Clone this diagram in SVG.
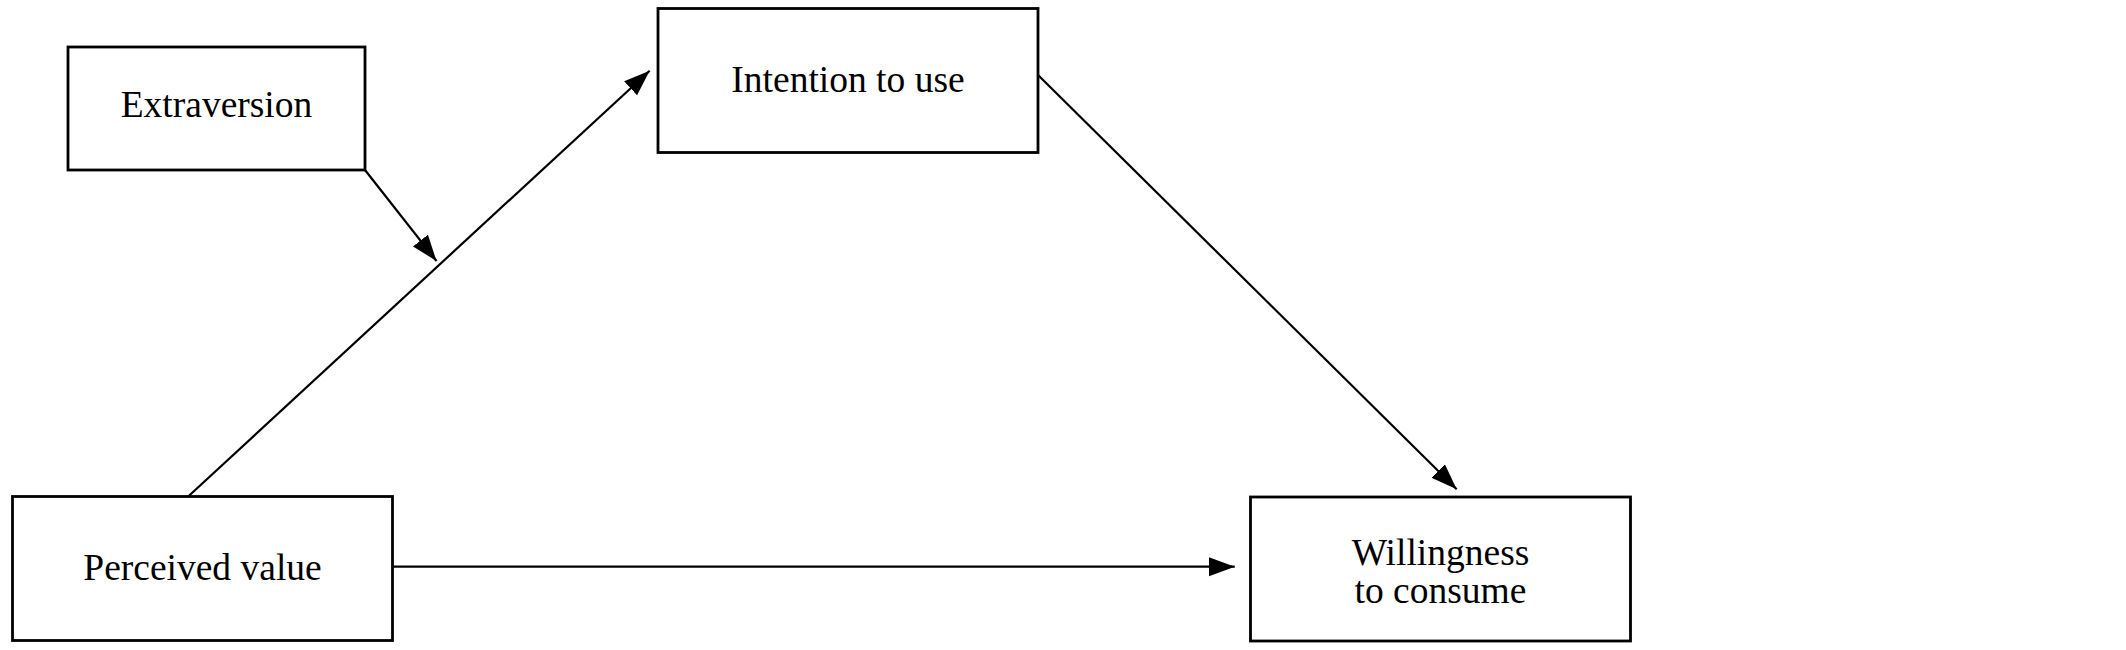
<svg xmlns="http://www.w3.org/2000/svg" width="2126" height="650" viewBox="0 0 2126 650">
<style>
.box{fill:#fff;stroke:#000;stroke-width:2.8}
.lbl{font-family:"Liberation Serif","Times New Roman",serif;font-size:37.5px;fill:#000;text-anchor:middle}
.edge{stroke:#000;stroke-width:2.2;fill:none}
</style>
<defs>
<marker id="ah" markerUnits="userSpaceOnUse" markerWidth="28" markerHeight="20" refX="26" refY="9.5" orient="auto">
<path d="M0,0 L26,9.5 L0,19 z" fill="#000"/>
</marker>
</defs>
<rect width="2126" height="650" fill="#fff"/>
<g id="connectors">
<line class="edge" x1="188.7" y1="496" x2="649.7" y2="70.7" marker-end="url(#ah)"/>
<line class="edge" x1="365" y1="170" x2="436.5" y2="261" marker-end="url(#ah)"/>
<line class="edge" x1="1038" y1="75" x2="1456.7" y2="489.3" marker-end="url(#ah)"/>
<line class="edge" x1="390" y1="566.7" x2="1234.8" y2="566.7" marker-end="url(#ah)"/>
</g>
<g id="extraversion">
<rect class="box" x="68" y="47" width="297" height="123"/>
<text class="lbl" x="216.5" y="117">Extraversion</text>
</g>
<g id="intention">
<rect class="box" x="658" y="8.5" width="380" height="144"/>
<text class="lbl" x="848" y="92">Intention to use</text>
</g>
<g id="perceived">
<rect class="box" x="12.5" y="496.5" width="380" height="144"/>
<text class="lbl" x="202.5" y="579.5">Perceived value</text>
</g>
<g id="willingness">
<rect class="box" x="1250.5" y="497" width="380" height="144"/>
<text class="lbl" x="1440.5" y="565">Willingness</text>
<text class="lbl" x="1440.5" y="602.5">to consume</text>
</g>
</svg>
